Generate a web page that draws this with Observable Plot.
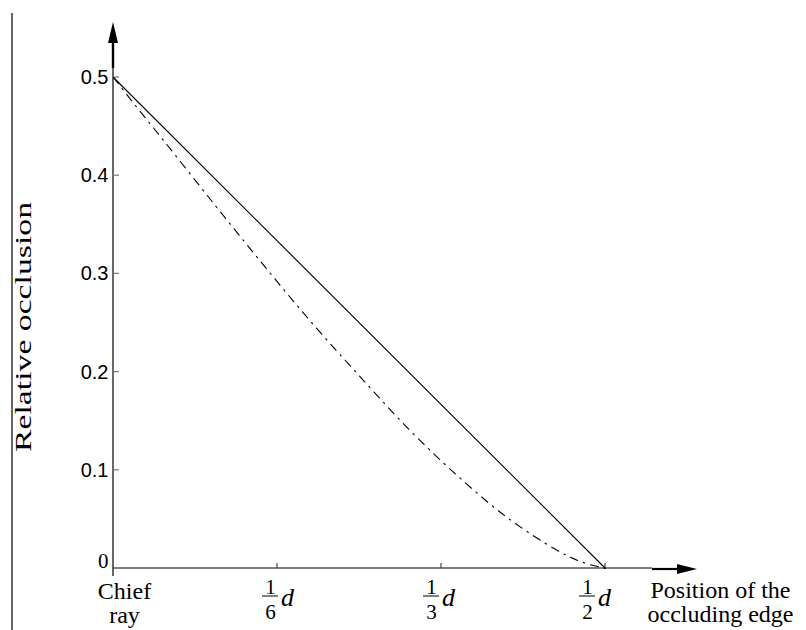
<!DOCTYPE html>
<html>
<head>
<meta charset="utf-8">
<script src="https://cdn.jsdelivr.net/npm/d3@7"></script>
<script src="https://cdn.jsdelivr.net/npm/@observablehq/plot@0.6"></script>
<style>
  html, body { margin: 0; padding: 0; background: #fff; }
  #chart { width: 806px; height: 630px; }
</style>
</head>
<body>
<div id="chart"></div>
<script>
// ---- data ----
// edge position in units of the pupil diameter d
const straightX = [0, 0.5];
const straightY = [0.5, 0];
const curveX = [0, 0.025, 0.05, 0.1, 0.15, 0.2, 0.25, 0.3, 0.35, 0.4, 0.45, 0.475, 0.5];
const curveY = [0.5, 0.468, 0.437, 0.374, 0.312, 0.252, 0.196, 0.142, 0.094, 0.052, 0.019, 0.007, 0];
const yTicks = [0.1, 0.2, 0.3, 0.4, 0.5];
const yTickLabels = ["0.1", "0.2", "0.3", "0.4", "0.5"];
const xTicks = [1 / 6, 1 / 3, 1 / 2];
const xTickNum = ["1", "1", "1"];
const xTickDen = ["6", "3", "2"];
const xTickUnit = ["d", "d", "d"];
const originXLabel = "Chief\nray";
const originYLabel = "0";
const xTitle = "Position of the\noccluding edge";
const yTitle = "Relative occlusion";

const straight = straightX.map((x, i) => ({x, y: straightY[i]}));
const curve = curveX.map((x, i) => ({x, y: curveY[i]}));

// label pixel nudges (layout only)
const labelShift = [0, -3, -11];
const serif = "Liberation Serif";
const sans = "Liberation Sans";

// axes, arrows, ticks and fraction bars drawn through the scales
function decor(index, scales, values, dims) {
  const x = scales.x, y = scales.y;
  const g = d3.create("svg:g");
  const x0 = x(0), y0 = y(0);
  // left border line
  g.append("line").attr("x1", 12).attr("x2", 12).attr("y1", 13).attr("y2", dims.height)
    .attr("stroke", "black").attr("stroke-width", 1.2);
  // y axis
  const yTop = y(0.5);
  g.append("line").attr("x1", x0).attr("x2", x0).attr("y1", y0 + 8).attr("y2", yTop - 9)
    .attr("stroke", "black").attr("stroke-width", 1.2);
  g.append("line").attr("x1", x0).attr("x2", x0).attr("y1", yTop - 9).attr("y2", yTop - 36)
    .attr("stroke", "black").attr("stroke-width", 2.4);
  g.append("path").attr("d", `M${x0 - 5},${yTop - 34} L${x0},${yTop - 55} L${x0 + 5},${yTop - 34} Z`)
    .attr("fill", "black");
  // x axis
  const xEnd = x(0.5);
  g.append("line").attr("x1", x0).attr("x2", xEnd + 47).attr("y1", y0).attr("y2", y0)
    .attr("stroke", "black").attr("stroke-width", 1.2);
  g.append("line").attr("x1", xEnd + 47).attr("x2", xEnd + 74).attr("y1", y0 + 1).attr("y2", y0 + 1)
    .attr("stroke", "black").attr("stroke-width", 2.2);
  g.append("path").attr("d", `M${xEnd + 72},${y0 - 4} L${xEnd + 92},${y0 + 1} L${xEnd + 72},${y0 + 6} Z`)
    .attr("fill", "black");
  // y ticks (inside, grey)
  for (const t of yTicks) {
    g.append("line").attr("x1", x0).attr("x2", x0 + 6).attr("y1", y(t)).attr("y2", y(t))
      .attr("stroke", "#777").attr("stroke-width", 1.2);
  }
  // x ticks (inside)
  for (const t of xTicks) {
    g.append("line").attr("x1", x(t)).attr("x2", x(t)).attr("y1", y0).attr("y2", y0 - 5)
      .attr("stroke", "#444").attr("stroke-width", 1.2);
  }
  // fraction bars
  xTicks.forEach((t, i) => {
    const cx = x(t) - 7 + labelShift[i];
    g.append("line").attr("x1", cx - 8).attr("x2", cx + 8).attr("y1", y0 + 28).attr("y2", y0 + 28)
      .attr("stroke", "black").attr("stroke-width", 1);
  });
  return g.node();
}

const fractionMarks = xTicks.flatMap((t, i) => [
  Plot.text([t], {x: d => d, y: () => 0, text: () => xTickNum[i], lineAnchor: "bottom",
    dx: -7 + labelShift[i], dy: 25, fontSize: 21, fontFamily: serif, fill: "black"}),
  Plot.text([t], {x: d => d, y: () => 0, text: () => xTickDen[i], lineAnchor: "bottom",
    dx: -7 + labelShift[i], dy: 50, fontSize: 21, fontFamily: serif, fill: "black"}),
  Plot.text([t], {x: d => d, y: () => 0, text: () => xTickUnit[i], lineAnchor: "bottom",
    dx: 10 + labelShift[i], dy: 37, fontSize: 26, fontStyle: "italic", fontFamily: serif, fill: "black"})
]);

const chart = Plot.plot({
  width: 806,
  height: 630,
  marginLeft: 113,
  marginRight: 201,
  marginTop: 77,
  marginBottom: 62,
  x: {domain: [0, 0.5], axis: null},
  y: {domain: [0, 0.5], axis: null},
  style: {background: "white", overflow: "visible", fontFamily: serif},
  marks: [
    decor,
    Plot.line(straight, {x: "x", y: "y", stroke: "black", strokeWidth: 1.1}),
    Plot.line(curve, {x: "x", y: "y", curve: "catmull-rom", stroke: "black", strokeWidth: 1.1,
      strokeDasharray: "8,6,1.5,6"}),
    Plot.text(yTicks, {x: () => 0, y: d => d, text: (d, i) => yTickLabels[i], textAnchor: "end",
      dx: -5, fontSize: 20, fontFamily: sans, fill: "black"}),
    Plot.text([0], {x: d => d, y: d => d, text: () => originYLabel, textAnchor: "end", lineAnchor: "bottom",
      dx: -5, dy: -1, fontSize: 21, fontFamily: serif, fill: "black"}),
    Plot.text([0], {x: d => d, y: d => d, text: () => originXLabel, lineAnchor: "top", lineHeight: 1.0,
      dx: 11, dy: 13, fontSize: 24, fontFamily: serif, fill: "black"}),
    Plot.text([0.5], {x: d => d, y: () => 0, text: () => xTitle, lineAnchor: "top", lineHeight: 1.0,
      dx: 115, dy: 12, fontSize: 24, fontFamily: serif, fill: "black"}),
    Plot.text([yTitle], {frameAnchor: "left", text: d => d, rotate: -90, textAnchor: "start",
      dx: -90, dy: 129, fontSize: 24, fontFamily: serif, fill: "black"}),
    ...fractionMarks
  ]
});

// stretch the y title to the reference's length
d3.select(chart).selectAll("text").filter(function () { return this.textContent === yTitle; })
  .attr("textLength", 250).attr("lengthAdjust", "spacingAndGlyphs");

document.getElementById("chart").appendChild(chart);
</script>
</body>
</html>
